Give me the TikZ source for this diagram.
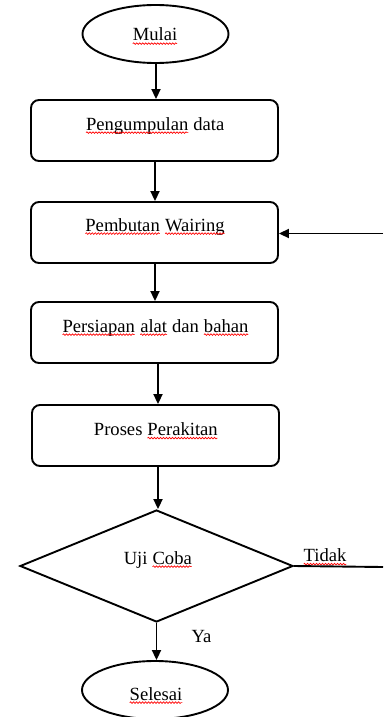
\documentclass[tikz,border=0pt]{standalone}
\usepackage{fontspec}
\setmainfont{Liberation Serif}
\usetikzlibrary{shapes.geometric,arrows.meta,decorations.pathmorphing}
\newcommand\sq[1]{\tikz[baseline=(sqw.base),x=1cm,y=1cm]{\node[shape=rectangle,inner sep=0pt,outer sep=0pt,minimum width=0pt,minimum height=0pt,draw=none,fill=none,anchor=base](sqw){#1};\draw[red,line width=0.7pt,sharp corners,decorate,decoration={snake,amplitude=0.8pt,segment length=3pt}]([yshift=-2.6pt]sqw.base west)--([yshift=-2.6pt]sqw.base east);}}
\tikzset{
  lw/.style={line width=1.9pt},
  term/.style={lw,draw,ellipse,minimum width=146pt,minimum height=58pt,inner sep=0pt},
  box/.style={lw,draw,rectangle,rounded corners=8pt,minimum width=247pt,minimum height=61pt,inner sep=0pt},
  dec/.style={lw,draw,diamond,minimum width=273pt,minimum height=112pt,inner sep=0pt},
  txt/.style={inner sep=0pt,anchor=base,font=\fontsize{18.6}{22}\selectfont},
  arr/.style={lw,-{Triangle[length=10pt,width=9pt]}},
  ln/.style={lw}
}
\begin{document}
\begin{tikzpicture}[x=1pt,y=-1pt]
\useasboundingbox (0,0) rectangle (383,717);
\node[term] (start) at (155.5,34) {};
\node[box] (b1) at (154.5,130.5) {};
\node[box] (b2) at (154.5,232.5) {};
\node[box] (b3) at (154.5,332.5) {};
\node[box] (b4) at (155.5,435.5) {};
\node[dec] (d) at (156.5,566) {};
\node[term] (end) at (155,690) {};
\node[txt] (t0) at (155,41) {\sq{Mulai}};
\node[txt] (t1) at (155,130) {\sq{Pengumpulan} data};
\node[txt] (t2) at (155,231) {\sq{Pembutan} \sq{Wairing}};
\node[txt] (t3) at (155.5,332) {\sq{Persiapan} \sq{alat} dan \sq{bahan}};
\node[txt] (t4) at (156,435.5) {Proses \sq{Perakitan}};
\node[txt] (t5) at (158,564) {Uji \sq{Coba}};
\node[txt] (tidak) at (325,561.5) {\sq{Tidak}};
\node[txt] (ya) at (201.5,642) {Ya};
\node[txt] (t6) at (156,700) {\sq{Selesai}};
\coordinate (eR1) at (383,567);
\coordinate (eR2) at (383,233.5);
\draw[arr] (156,63) coordinate (s0) -- (s0 |- b1.north);
\draw[arr] (155,161) coordinate (s1) -- (s1 |- b2.north);
\draw[arr] (155,263) coordinate (s2) -- (s2 |- b3.north);
\draw[arr] (158,363) coordinate (s3) -- (s3 |- b4.north);
\draw[arr] (158,466) coordinate (s4) -- (s4 |- d.north);
\draw[arr] (d.south) -- (d.south |- end.north);
\draw[ln] (d.east) -- (eR1);
\draw[arr] (eR2) -- (eR2 -| b2.east);
\end{tikzpicture}
\end{document}
